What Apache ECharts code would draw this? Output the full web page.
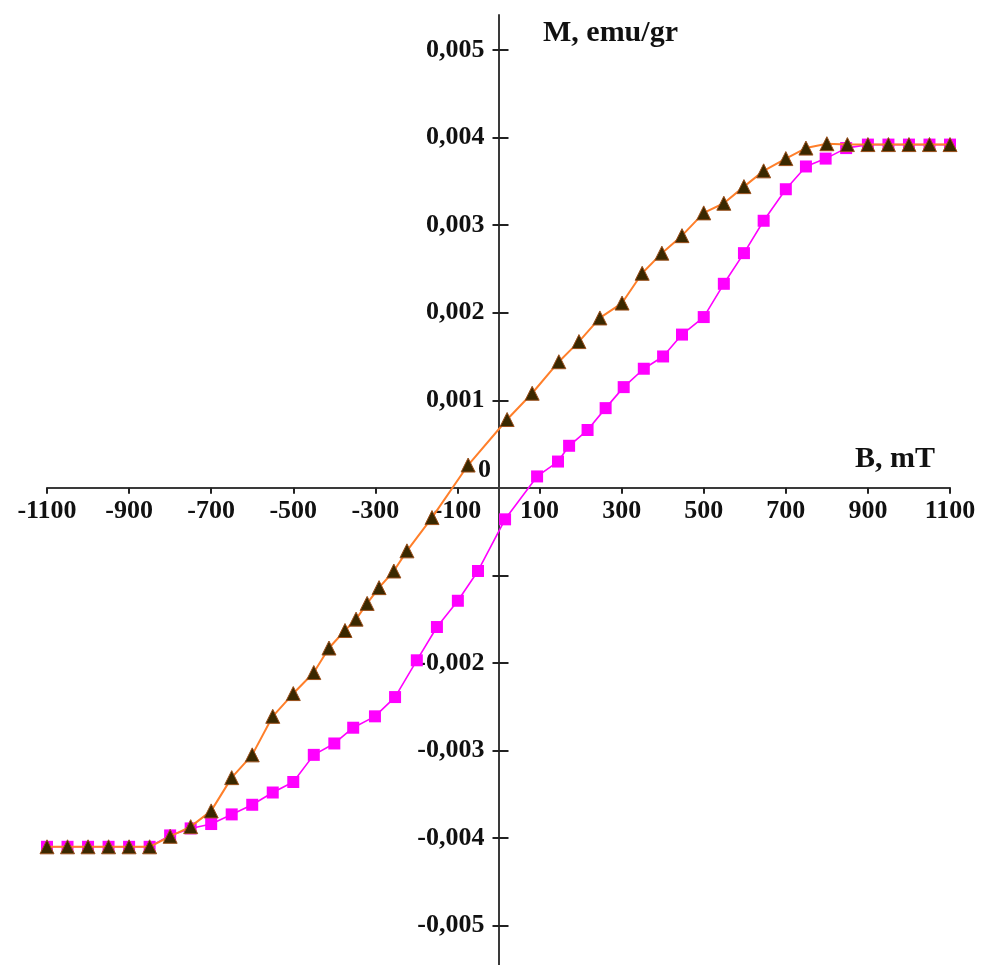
<!DOCTYPE html>
<html><head><meta charset="utf-8">
<script src="https://cdn.jsdelivr.net/npm/echarts@6/dist/echarts.min.js"></script>
<style>html,body{margin:0;padding:0;background:#fff}#c{width:981px;height:965px}</style>
</head><body><div id="c"></div>
<script>
// X tick values (B, mT)
const xTicks = [-1100, -900, -700, -500, -300, -100, 100, 300, 500, 700, 900, 1100];
// Y tick values (M, emu/gr); 0 is labelled separately
const yTicks = [-0.005, -0.004, -0.003, -0.002, -0.001, 0.001, 0.002, 0.003, 0.004, 0.005];
// Y tick labels that are visible in the reference (-0,001 is hidden behind the curve)
const yLabels = [-0.005, -0.004, -0.003, -0.002, 0.001, 0.002, 0.003, 0.004, 0.005];

// Square (magenta) branch
const squareB = [-1100, -1050, -1000, -950, -900, -850, -800, -750, -700, -650, -600, -550, -500, -450, -400, -354, -301, -252, -199, -150, -99, -50, 16, 94, 145, 172, 217, 261, 305, 354, 401, 447, 500, 549, 598, 646, 700, 749, 797, 847, 900, 950, 1000, 1050, 1100];
const squareM = [-0.0041, -0.0041, -0.0041, -0.0041, -0.0041, -0.0041, -0.00397, -0.00389, -0.00384, -0.00373, -0.00362, -0.00348, -0.00336, -0.00305, -0.00292, -0.00274, -0.00261, -0.00239, -0.00197, -0.00159, -0.00129, -0.00095, -0.00036, 0.00013, 0.0003, 0.00048, 0.00066, 0.00091, 0.00115, 0.00136, 0.0015, 0.00175, 0.00195, 0.00233, 0.00268, 0.00305, 0.00341, 0.00367, 0.00376, 0.00388, 0.00392, 0.00392, 0.00392, 0.00392, 0.00392];

// Triangle (brown, orange line) branch
const triB = [-1100, -1050, -1000, -950, -900, -850, -800, -750, -700, -650, -600, -550, -500, -450, -413, -374, -347, -320, -291, -255, -223, -162, -74, 21, 82, 147, 196, 247, 301, 350, 398, 447, 500, 549, 598, 646, 700, 749, 800, 850, 900, 950, 1000, 1050, 1100];
const triM = [-0.0041, -0.0041, -0.0041, -0.0041, -0.0041, -0.0041, -0.00398, -0.00387, -0.00369, -0.00331, -0.00305, -0.00261, -0.00235, -0.00211, -0.00183, -0.00163, -0.0015, -0.00132, -0.00114, -0.00095, -0.00072, -0.00034, 0.00026, 0.00078, 0.00108, 0.00144, 0.00167, 0.00194, 0.00211, 0.00245, 0.00268, 0.00288, 0.00314, 0.00325, 0.00344, 0.00362, 0.00376, 0.00388, 0.00393, 0.00392, 0.00392, 0.00392, 0.00392, 0.00392, 0.00392];

const FONT = 'Liberation Serif';
const zip = (a, b) => a.map((v, i) => [v, b[i]]);
const fmtY = v => v.toFixed(3).replace('.', ',');
const fmtX = v => String(Math.round(v));

const W = 981, H = 965;
const G = {left: 47, right: 31, top: 15, bottom: 0};
const X_MIN = -1100, X_MAX = 1100, Y_MIN = -0.00545, Y_MAX = 0.0054;
const gw = W - G.left - G.right, gh = H - G.top - G.bottom;
const zeroX = G.left + gw * (0 - X_MIN) / (X_MAX - X_MIN);
const zeroY = G.top + gh * (Y_MAX - 0) / (Y_MAX - Y_MIN);

const chart = echarts.init(document.getElementById('c'), null, {renderer: 'canvas'});
chart.setOption({
  backgroundColor: '#ffffff',
  animation: false,
  grid: {left: G.left, right: G.right, top: G.top, bottom: G.bottom, containLabel: false, outerBoundsMode: 'none'},
  xAxis: {
    type: 'value', min: X_MIN, max: X_MAX, position: 'bottom',
    offset: zeroY - (H - G.bottom),
    axisLine: {onZero: false, lineStyle: {color: '#3a3a3a', width: 2}},
    axisTick: {show: true, length: 6, customValues: xTicks, lineStyle: {color: '#222', width: 2}},
    axisLabel: {customValues: xTicks, formatter: fmtX, margin: 10, color: '#111', fontFamily: FONT, fontWeight: 'bold', fontSize: 26, showMinLabel: true, showMaxLabel: true, hideOverlap: false},
    splitLine: {show: false}
  },
  yAxis: [{
    type: 'value', min: Y_MIN, max: Y_MAX, position: 'left',
    offset: G.left - zeroX,
    axisLine: {onZero: false, lineStyle: {color: '#3a3a3a', width: 2}},
    axisTick: {show: true, length: 6, customValues: yTicks, lineStyle: {color: '#222', width: 2}},
    axisLabel: {customValues: yLabels, formatter: fmtY, margin: 14, color: '#111', fontFamily: FONT, fontWeight: 'bold', fontSize: 26, hideOverlap: false},
    splitLine: {show: false}
  }, {
    type: 'value', min: Y_MIN, max: Y_MAX, position: 'right',
    offset: zeroX - (W - G.right),
    axisLine: {show: false, onZero: false},
    axisTick: {show: true, length: 10, customValues: yTicks, lineStyle: {color: '#222', width: 2}},
    axisLabel: {show: false},
    splitLine: {show: false}
  }],
  series: [{
    type: 'line', name: 'squares', data: zip(squareB, squareM), clip: false,
    symbol: 'rect', symbolSize: 12,
    itemStyle: {color: '#FF00FF'},
    lineStyle: {color: '#FF00FF', width: 1.6},
    z: 2
  }, {
    type: 'line', name: 'triangles', data: zip(triB, triM), clip: false,
    symbol: 'triangle', symbolSize: 14,
    itemStyle: {color: '#3a2800', borderColor: '#9a4f1a', borderWidth: 1},
    lineStyle: {color: '#FF7F2A', width: 2},
    z: 3
  }],
  graphic: [
    {type: 'text', left: 543, top: 18, style: {text: 'M, emu/gr', font: 'bold 30px "Liberation Serif"', fill: '#111'}},
    {type: 'text', left: 855, top: 444, style: {text: 'B, mT', font: 'bold 30px "Liberation Serif"', fill: '#111'}},
    {type: 'text', left: 478, top: 457, style: {text: '0', font: 'bold 26px "Liberation Serif"', fill: '#111'}}
  ]
});
</script>
</body></html>
